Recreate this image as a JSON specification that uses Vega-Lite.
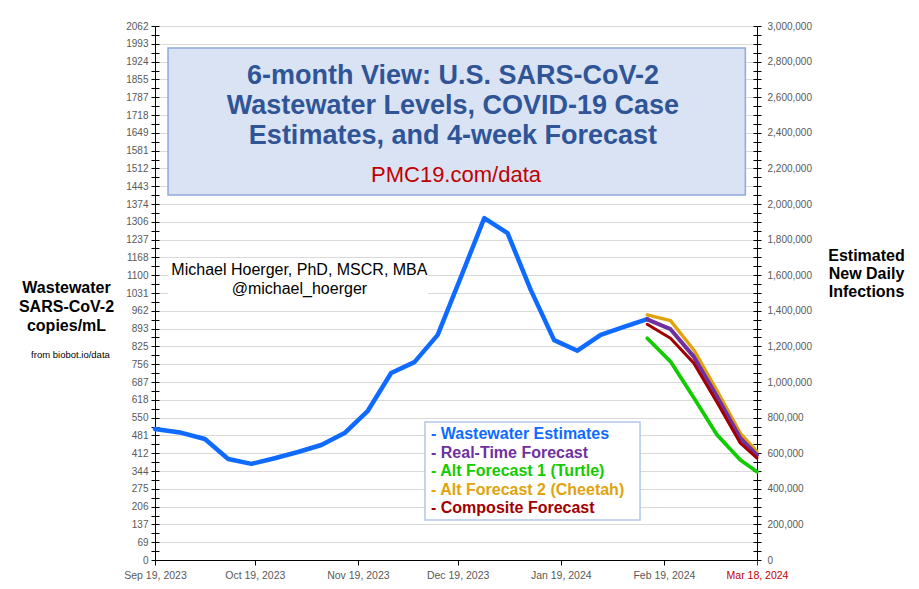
{
 "$schema": "https://vega.github.io/schema/vega-lite/v6.json",
 "width": 602,
 "height": 534,
 "autosize": {"type": "none"},
 "padding": {"left": 155, "top": 26, "right": 162, "bottom": 29},
 "background": "white",
 "data": {"values": [
  {"date": "2023-09-19", "series": "Wastewater Estimates", "value": 506},
  {"date": "2023-09-27", "series": "Wastewater Estimates", "value": 491},
  {"date": "2023-10-04", "series": "Wastewater Estimates", "value": 467},
  {"date": "2023-10-11", "series": "Wastewater Estimates", "value": 390},
  {"date": "2023-10-18", "series": "Wastewater Estimates", "value": 371},
  {"date": "2023-10-25", "series": "Wastewater Estimates", "value": 393},
  {"date": "2023-11-01", "series": "Wastewater Estimates", "value": 417},
  {"date": "2023-11-08", "series": "Wastewater Estimates", "value": 444},
  {"date": "2023-11-15", "series": "Wastewater Estimates", "value": 490},
  {"date": "2023-11-22", "series": "Wastewater Estimates", "value": 576},
  {"date": "2023-11-29", "series": "Wastewater Estimates", "value": 722},
  {"date": "2023-12-06", "series": "Wastewater Estimates", "value": 764},
  {"date": "2023-12-13", "series": "Wastewater Estimates", "value": 869},
  {"date": "2023-12-20", "series": "Wastewater Estimates", "value": 1093},
  {"date": "2023-12-27", "series": "Wastewater Estimates", "value": 1320},
  {"date": "2024-01-03", "series": "Wastewater Estimates", "value": 1262},
  {"date": "2024-01-10", "series": "Wastewater Estimates", "value": 1042},
  {"date": "2024-01-17", "series": "Wastewater Estimates", "value": 849},
  {"date": "2024-01-24", "series": "Wastewater Estimates", "value": 808},
  {"date": "2024-01-31", "series": "Wastewater Estimates", "value": 869},
  {"date": "2024-02-07", "series": "Wastewater Estimates", "value": 900},
  {"date": "2024-02-14", "series": "Wastewater Estimates", "value": 930},
  {"date": "2024-02-14", "series": "Alt Forecast 2 (Cheetah)", "value": 946},
  {"date": "2024-02-21", "series": "Alt Forecast 2 (Cheetah)", "value": 924},
  {"date": "2024-02-28", "series": "Alt Forecast 2 (Cheetah)", "value": 811},
  {"date": "2024-03-06", "series": "Alt Forecast 2 (Cheetah)", "value": 653},
  {"date": "2024-03-13", "series": "Alt Forecast 2 (Cheetah)", "value": 489},
  {"date": "2024-03-18", "series": "Alt Forecast 2 (Cheetah)", "value": 418},
  {"date": "2024-02-14", "series": "Real-Time Forecast", "value": 929},
  {"date": "2024-02-21", "series": "Real-Time Forecast", "value": 891},
  {"date": "2024-02-28", "series": "Real-Time Forecast", "value": 785},
  {"date": "2024-03-06", "series": "Real-Time Forecast", "value": 630},
  {"date": "2024-03-13", "series": "Real-Time Forecast", "value": 470},
  {"date": "2024-03-18", "series": "Real-Time Forecast", "value": 405},
  {"date": "2024-02-14", "series": "Alt Forecast 1 (Turtle)", "value": 856},
  {"date": "2024-02-21", "series": "Alt Forecast 1 (Turtle)", "value": 766},
  {"date": "2024-02-28", "series": "Alt Forecast 1 (Turtle)", "value": 626},
  {"date": "2024-03-06", "series": "Alt Forecast 1 (Turtle)", "value": 483},
  {"date": "2024-03-13", "series": "Alt Forecast 1 (Turtle)", "value": 386},
  {"date": "2024-03-18", "series": "Alt Forecast 1 (Turtle)", "value": 341},
  {"date": "2024-02-14", "series": "Composite Forecast", "value": 910},
  {"date": "2024-02-21", "series": "Composite Forecast", "value": 856},
  {"date": "2024-02-28", "series": "Composite Forecast", "value": 760},
  {"date": "2024-03-06", "series": "Composite Forecast", "value": 608},
  {"date": "2024-03-13", "series": "Composite Forecast", "value": 451},
  {"date": "2024-03-18", "series": "Composite Forecast", "value": 393}
 ]},
 "layer": [
  {
   "data": {"values": [{}]},
   "mark": {"type": "rect", "fill": "#dae3f3", "stroke": "#8faadc", "strokeWidth": 1.5},
   "encoding": {
    "x": {"datum": {"year": 2023, "month": 9, "date": 22, "hours": 22, "utc": true}, "type": "temporal", "scale": {"type": "utc"}, "axis": null},
    "x2": {"datum": {"year": 2024, "month": 3, "date": 14, "hours": 12, "utc": true}},
    "y": {"datum": 1977, "type": "quantitative", "axis": null},
    "y2": {"datum": 1409}
   }
  },
  {
   "data": {"values": [{}]},
   "mark": {"type": "text", "text": ["6-month View: U.S. SARS-CoV-2", "Wastewater Levels, COVID-19 Case", "Estimates, and 4-week Forecast"], "font": "Liberation Sans", "fontSize": 27, "fontWeight": "bold", "fill": "#2f5597", "align": "center", "baseline": "alphabetic", "lineHeight": 30},
   "encoding": {
    "x": {"datum": {"year": 2023, "month": 12, "date": 17, "hours": 14, "utc": true}, "type": "temporal", "scale": {"type": "utc"}, "axis": null},
    "y": {"datum": 1838, "type": "quantitative", "axis": null}
   }
  },
  {
   "data": {"values": [{}]},
   "mark": {"type": "text", "text": "PMC19.com/data", "font": "Liberation Sans", "fontSize": 22, "fill": "#c00000", "align": "center", "baseline": "alphabetic"},
   "encoding": {
    "x": {"datum": {"year": 2023, "month": 12, "date": 18, "hours": 12, "utc": true}, "type": "temporal", "scale": {"type": "utc"}, "axis": null},
    "y": {"datum": 1459, "type": "quantitative", "axis": null}
   }
  },
  {
   "data": {"values": [{}]},
   "mark": {"type": "rect", "fill": "white"},
   "encoding": {
    "x": {"datum": {"year": 2023, "month": 9, "date": 22, "hours": 22, "utc": true}, "type": "temporal", "scale": {"type": "utc"}, "axis": null},
    "x2": {"datum": {"year": 2023, "month": 12, "date": 10, "hours": 2, "utc": true}},
    "y": {"datum": 1154, "type": "quantitative", "axis": null},
    "y2": {"datum": 1010}
   }
  },
  {
   "data": {"values": [{}]},
   "mark": {"type": "rect", "fill": "white", "stroke": "#b4c7e7", "strokeWidth": 1.5},
   "encoding": {
    "x": {"datum": {"year": 2023, "month": 12, "date": 9, "hours": 4, "utc": true}, "type": "temporal", "scale": {"type": "utc"}, "axis": null},
    "x2": {"datum": {"year": 2024, "month": 2, "date": 11, "hours": 20, "utc": true}},
    "y": {"datum": 533, "type": "quantitative", "axis": null},
    "y2": {"datum": 154}
   }
  },
  {
   "data": {"values": [{}]},
   "mark": {"type": "text", "text": ["Michael Hoerger, PhD, MSCR, MBA", "@michael_hoerger"], "font": "Liberation Sans", "fontSize": 16, "fill": "black", "align": "center", "baseline": "alphabetic", "lineHeight": 19.5},
   "encoding": {
    "x": {"datum": {"year": 2023, "month": 11, "date": 1, "hours": 10, "utc": true}, "type": "temporal", "scale": {"type": "utc"}, "axis": null},
    "y": {"datum": 1102, "type": "quantitative", "axis": null}
   }
  },
  {
   "data": {"values": [{}]},
   "mark": {"type": "text", "text": "from biobot.io/data", "font": "Liberation Sans", "fontSize": 9.5, "fill": "black", "align": "center", "baseline": "alphabetic"},
   "encoding": {
    "x": {"datum": {"year": 2023, "month": 8, "date": 24, "hours": 14, "utc": true}, "type": "temporal", "scale": {"type": "utc"}, "axis": null},
    "y": {"datum": 778, "type": "quantitative", "axis": null}
   }
  },
  {
   "mark": {"type": "line", "strokeJoin": "round", "strokeCap": "round"},
   "encoding": {
    "x": {
     "field": "date", "type": "temporal",
     "scale": {"type": "utc", "domain": [{"year": 2023, "month": 9, "date": 19, "utc": true}, {"year": 2024, "month": 3, "date": 18, "utc": true}]},
     "axis": {
      "orient": "bottom",
      "values": [
       {"year": 2023, "month": 9, "date": 19, "utc": true},
       {"year": 2023, "month": 10, "date": 19, "utc": true},
       {"year": 2023, "month": 11, "date": 19, "utc": true},
       {"year": 2023, "month": 12, "date": 19, "utc": true},
       {"year": 2024, "month": 1, "date": 19, "utc": true},
       {"year": 2024, "month": 2, "date": 19, "utc": true},
       {"year": 2024, "month": 3, "date": 18, "utc": true}
      ],
      "labelExpr": "utcFormat(datum.value, '%b %d, %Y')",
      "labelFlush": false,
      "labelOverlap": false,
      "labelFontSize": 10.5,
      "labelPadding": 5,
      "tickSize": 5,
      "grid": false,
      "title": null,
      "labelColor": {"condition": {"test": "datum.value >= 1710000000000", "value": "#c00000"}, "value": "#595959"},
      "tickColor": {"condition": {"test": "datum.value >= 1710000000000", "value": "#c00000"}, "value": "black"}
     }
    },
    "y": {
     "field": "value", "type": "quantitative",
     "scale": {"domain": [0, 2061.6], "nice": false, "zero": true},
     "axis": {
      "orient": "left",
      "values": [0,34.36,68.72,103.08,137.44,171.8,206.16,240.52,274.88,309.24,343.6,377.96,412.32,446.68,481.04,515.4,549.76,584.12,618.48,652.84,687.2,721.56,755.92,790.28,824.64,859,893.36,927.72,962.08,996.44,1030.8,1065.16,1099.52,1133.88,1168.24,1202.6,1236.96,1271.32,1305.68,1340.04,1374.4,1408.76,1443.12,1477.48,1511.84,1546.2,1580.56,1614.92,1649.28,1683.64,1718,1752.36,1786.72,1821.08,1855.44,1889.8,1924.16,1958.52,1992.88,2027.24,2061.6],
      "labelExpr": "round(datum.value*60/2061.6) % 2 == 0 ? format(datum.value, '.0f') : ''",
      "labelOverlap": false,
      "labelFontSize": 10,
      "labelPadding": 3,
      "tickSize": 4,
      "grid": true,
      "gridOpacity": {"condition": {"test": "round(datum.value*60/2061.6) % 2 == 1", "value": 0}, "value": 1},
      "title": ["Wastewater", "SARS-CoV-2", "copies/mL"],
      "titleAngle": 0,
      "titleAlign": "center",
      "titleBaseline": "alphabetic",
      "titleX": -89,
      "titleY": 266.5,
      "titleFontSize": 16,
      "titleFontWeight": "bold",
      "titleColor": "black",
      "titleLineHeight": 18.8
     }
    },
    "color": {
     "field": "series", "type": "nominal",
     "scale": {"domain": ["Wastewater Estimates", "Real-Time Forecast", "Alt Forecast 1 (Turtle)", "Alt Forecast 2 (Cheetah)", "Composite Forecast"], "range": ["#0f6bff", "#7030a0", "#11cc00", "#e0a30e", "#a00000"]},
     "legend": {
      "orient": "none", "legendX": 272, "legendY": 396, "direction": "vertical", "title": null,
      "padding": 4,
      "labelFont": "Liberation Sans", "labelFontSize": 16, "labelFontWeight": "bold", "labelLimit": 0,
      "labelExpr": "'- ' + datum.label",
      "symbolSize": 0.01, "symbolOpacity": 0, "symbolStrokeWidth": 0, "labelOffset": -16, "rowPadding": 2.6,
      "encode": {"labels": {"update": {"fill": {"scale": "color", "field": "value"}}}}
     }
    },
    "strokeWidth": {
     "field": "series", "type": "nominal",
     "scale": {"domain": ["Wastewater Estimates", "Real-Time Forecast", "Alt Forecast 1 (Turtle)", "Alt Forecast 2 (Cheetah)", "Composite Forecast"], "range": [4.5, 3, 2.2, 2.6, 5]},
     "legend": null
    }
   }
  },
  {
   "mark": {"type": "line", "opacity": 0},
   "encoding": {
    "x": {"field": "date", "type": "temporal", "scale": {"type": "utc"}, "axis": null},
    "y": {"field": "value", "type": "quantitative", "axis": {"orient": "left", "values": [0,34.36,68.72,103.08,137.44,171.8,206.16,240.52,274.88,309.24,343.6,377.96,412.32,446.68,481.04,515.4,549.76,584.12,618.48,652.84,687.2,721.56,755.92,790.28,824.64,859,893.36,927.72,962.08,996.44,1030.8,1065.16,1099.52,1133.88,1168.24,1202.6,1236.96,1271.32,1305.68,1340.04,1374.4,1408.76,1443.12,1477.48,1511.84,1546.2,1580.56,1614.92,1649.28,1683.64,1718,1752.36,1786.72,1821.08,1855.44,1889.8,1924.16,1958.52,1992.88,2027.24,2061.6], "offset": -4, "tickSize": 4, "labels": false, "domain": false, "grid": false, "title": null}},
    "detail": {"field": "series"}
   }
  },
  {
   "mark": {"type": "line", "opacity": 0},
   "encoding": {
    "x": {"field": "date", "type": "temporal", "scale": {"type": "utc"}, "axis": null},
    "y": {"field": "value", "type": "quantitative", "axis": {
     "orient": "right",
     "values": [0,34.36,68.72,103.08,137.44,171.8,206.16,240.52,274.88,309.24,343.6,377.96,412.32,446.68,481.04,515.4,549.76,584.12,618.48,652.84,687.2,721.56,755.92,790.28,824.64,859,893.36,927.72,962.08,996.44,1030.8,1065.16,1099.52,1133.88,1168.24,1202.6,1236.96,1271.32,1305.68,1340.04,1374.4,1408.76,1443.12,1477.48,1511.84,1546.2,1580.56,1614.92,1649.28,1683.64,1718,1752.36,1786.72,1821.08,1855.44,1889.8,1924.16,1958.52,1992.88,2027.24,2061.6],
     "labelExpr": "round(datum.value*60/2061.6) % 4 == 0 ? format(round(datum.value*60/2061.6)*50000, ',') : ''",
     "labelOverlap": false,
     "labelFontSize": 10,
     "labelPadding": 6,
     "tickSize": 4,
     "grid": false,
     "title": ["Estimated", "New Daily", "Infections"],
     "titleAngle": 0,
     "titleAlign": "center",
     "titleBaseline": "alphabetic",
     "titleX": 109,
     "titleY": 234,
     "titleFontSize": 16,
     "titleFontWeight": "bold",
     "titleColor": "black",
     "titleLineHeight": 18
    }},
    "detail": {"field": "series"}
   }
  },
  {
   "mark": {"type": "line", "opacity": 0},
   "encoding": {
    "x": {"field": "date", "type": "temporal", "scale": {"type": "utc"}, "axis": null},
    "y": {"field": "value", "type": "quantitative", "axis": {"orient": "right", "values": [0,34.36,68.72,103.08,137.44,171.8,206.16,240.52,274.88,309.24,343.6,377.96,412.32,446.68,481.04,515.4,549.76,584.12,618.48,652.84,687.2,721.56,755.92,790.28,824.64,859,893.36,927.72,962.08,996.44,1030.8,1065.16,1099.52,1133.88,1168.24,1202.6,1236.96,1271.32,1305.68,1340.04,1374.4,1408.76,1443.12,1477.48,1511.84,1546.2,1580.56,1614.92,1649.28,1683.64,1718,1752.36,1786.72,1821.08,1855.44,1889.8,1924.16,1958.52,1992.88,2027.24,2061.6], "offset": -4, "tickSize": 4, "labels": false, "domain": false, "grid": false, "title": null}},
    "detail": {"field": "series"}
   }
  }
 ],
 "resolve": {"axis": {"x": "independent", "y": "independent"}},
 "config": {
  "view": {"stroke": null},
  "font": "Liberation Sans",
  "axis": {"domainColor": "black", "tickColor": "black", "gridColor": "#d9d9d9", "labelColor": "#595959", "labelFont": "Liberation Sans", "titleFont": "Liberation Sans", "domainWidth": 1, "tickWidth": 1}
 }
}
